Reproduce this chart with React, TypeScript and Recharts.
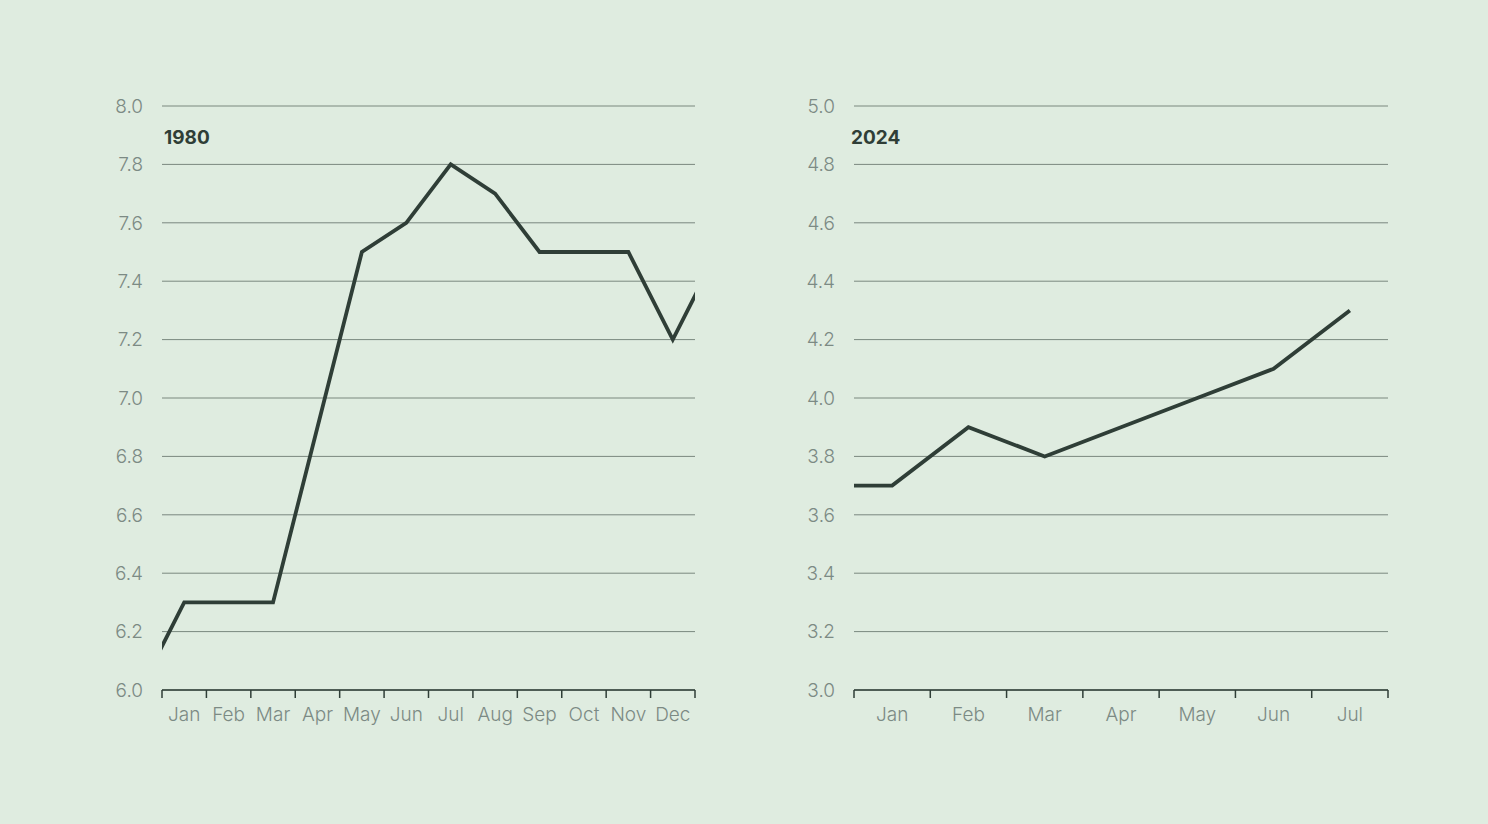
import { LineChart, Line, XAxis, YAxis, CartesianGrid } from "recharts";

// x = 0 is the month before the first label, so the line runs in from the left edge
const months1980 = ["Jan", "Feb", "Mar", "Apr", "May", "Jun", "Jul", "Aug", "Sep", "Oct", "Nov", "Dec"];
const rates1980 = [6.0, 6.3, 6.3, 6.3, 6.9, 7.5, 7.6, 7.8, 7.7, 7.5, 7.5, 7.5, 7.2, 7.5];
const yTicks1980 = [6.0, 6.2, 6.4, 6.6, 6.8, 7.0, 7.2, 7.4, 7.6, 7.8, 8.0];

const months2024 = ["Jan", "Feb", "Mar", "Apr", "May", "Jun", "Jul"];
const rates2024 = [3.7, 3.7, 3.9, 3.8, 3.9, 4.0, 4.1, 4.3];
const yTicks2024 = [3.0, 3.2, 3.4, 3.6, 3.8, 4.0, 4.2, 4.4, 4.6, 4.8, 5.0];

const BG = "#dfece0";
const INK = "#2f3e37";
const GRID = "#7a887f";
const MUTED = "#7c8a84";
const FONT = "Inter, 'Noto Sans', sans-serif";

function toRows(values: number[]) {
    return values.map((v, i) => ({ x: i, value: v }));
}

function makeTick(labels: string[]) {
    return function MonthTick(props: any) {
        const { x, y, payload } = props;
        const v = payload.value as number;
        if (!Number.isInteger(v)) {
            return <line x1={x} x2={x} y1={y} y2={y + 8} stroke={INK} strokeWidth={1.5} />;
        }
        return (
            <text x={x} y={y + 31} textAnchor="middle" fill={MUTED} fontSize={19} fontWeight={300} fontFamily={FONT}>
                {labels[v - 1]}
            </text>
        );
    };
}

interface PanelProps {
    title: string;
    labels: string[];
    values: number[];
    yTicks: number[];
    left: number;
    width: number;
    marginLeft: number;
    titleX: number;
}

function Panel({ title, labels, values, yTicks, left, width, marginLeft, titleX }: PanelProps) {
    const n = labels.length;
    const xTicks: number[] = [];
    for (let i = 0; i <= 2 * n; i++) xTicks.push(0.5 + i / 2);
    return (
        <div style={{ position: "absolute", left, top: 0, width, height: 760 }}>
            <LineChart width={width} height={760} data={toRows(values)} margin={{ top: 106, right: 25, bottom: 30, left: marginLeft }}>
                <CartesianGrid horizontal vertical={false} stroke={GRID} strokeWidth={1} />
                <XAxis
                    dataKey="x"
                    type="number"
                    domain={[0.5, n + 0.5]}
                    allowDataOverflow
                    ticks={xTicks}
                    interval={0}
                    tickSize={0}
                    tickMargin={0}
                    tickLine={false}
                    axisLine={{ stroke: INK, strokeWidth: 1.5 }}
                    tick={makeTick(labels)}
                    height={40}
                />
                <YAxis
                    type="number"
                    domain={[yTicks[0], yTicks[yTicks.length - 1]]}
                    ticks={yTicks}
                    interval={0}
                    width={60}
                    axisLine={false}
                    tickLine={false}
                    tickSize={0}
                    tickMargin={19}
                    tickFormatter={(v: number) => v.toFixed(1)}
                    tick={{ fill: MUTED, fontSize: 19, fontWeight: 300, fontFamily: FONT }}
                />
                <Line type="linear" dataKey="value" stroke={INK} strokeWidth={3.8} dot={false} isAnimationActive={false} />
            </LineChart>
            <div
                style={{
                    position: "absolute",
                    left: titleX,
                    top: 126,
                    fontFamily: FONT,
                    fontWeight: 700,
                    fontSize: 19,
                    color: INK,
                    lineHeight: "24px",
                }}
            >
                {title}
            </div>
        </div>
    );
}

export default function App() {
    return (
        <div style={{ position: "absolute", left: 0, top: 0, width: 1488, height: 824, background: BG, overflow: "hidden" }}>
            <Panel title="1980" labels={months1980} values={rates1980} yTicks={yTicks1980} left={0} width={720} marginLeft={102} titleX={164} />
            <Panel title="2024" labels={months2024} values={rates2024} yTicks={yTicks2024} left={720} width={693} marginLeft={74} titleX={131} />
        </div>
    );
}
